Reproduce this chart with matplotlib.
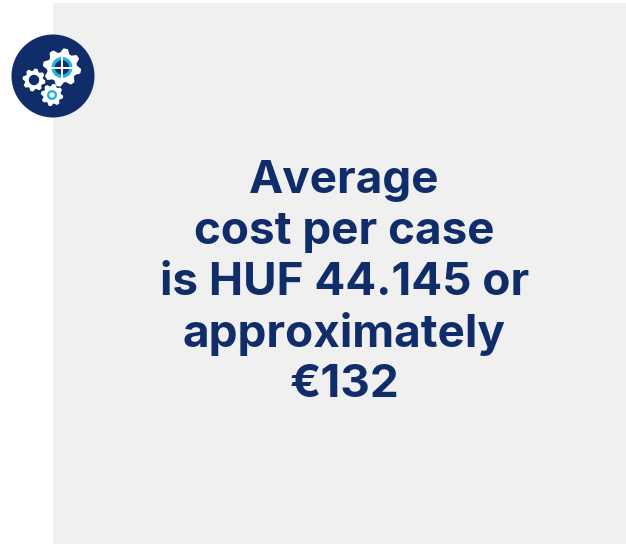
import numpy as np
import matplotlib
matplotlib.use("Agg")
import matplotlib.pyplot as plt
from matplotlib.patches import Circle, Rectangle, Polygon

W, H = 626, 544
NAVY = "#102d69"
PANEL = "#f0f0f0"
CYAN = "#1fb5e0"

# text lines of the card
LINES = ["Average", "cost per case", "is HUF 44.145 or", "approximately", "€132"]
BASELINES = [193, 244, 295, 346.5, 397]
# gears: centre x, centre y, outer radius
GEAR_X = [62, 34, 52]
GEAR_Y = [67.5, 80, 95]
GEAR_R = [18.5, 10.8, 10.5]
GEAR_TEETH = [8, 8, 8]


def gear(ax, cx, cy, r, teeth):
    # outline alternating between tooth tip and root
    n = teeth * 4
    ang = np.linspace(0, 2 * np.pi, n, endpoint=False) + np.pi / teeth / 4
    rad = np.where(np.arange(n) % 4 < 2, r, r * 0.78)
    pts = np.column_stack([cx + rad * np.cos(ang), cy + rad * np.sin(ang)])
    ax.add_patch(Polygon(pts, closed=True, fc="white", ec="white", lw=1.0, joinstyle="round", zorder=4))


fig = plt.figure(figsize=(W / 100, H / 100), dpi=100)
ax = fig.add_axes([0, 0, 1, 1])
ax.set_xlim(0, W)
ax.set_ylim(H, 0)
ax.axis("off")

ax.add_patch(Rectangle((53, 3), 573, 541, fc=PANEL, ec="none"))
ax.add_patch(Circle((53, 76), 41.5, fc=NAVY, ec="none", zorder=3))

for gx, gy, gr, gt in zip(GEAR_X, GEAR_Y, GEAR_R, GEAR_TEETH):
    gear(ax, gx, gy, gr, gt)

# big gear: cyan ring with crosshair
ax.add_patch(Circle((62, 67.5), 10.5, fc=CYAN, ec="none", zorder=5))
ax.add_patch(Circle((62, 67.5), 7.2, fc=NAVY, ec="none", zorder=6))
ax.plot([62, 62], [57, 78], color="white", lw=1.4, zorder=7)
ax.plot([51.5, 72.5], [67.5, 67.5], color="white", lw=1.4, zorder=7)
# left gear: plain hole
ax.add_patch(Circle((34, 80), 5.2, fc=NAVY, ec="none", zorder=5))
# lower gear: cyan ring
ax.add_patch(Circle((52, 95), 5, fc=CYAN, ec="none", zorder=5))
ax.add_patch(Circle((52, 95), 2.6, fc="white", ec="none", zorder=6))

for txt, y in zip(LINES, BASELINES):
    ax.text(344.5, y, txt, ha="center", va="baseline", fontsize=33, fontweight="bold",
            family="Inter", color=NAVY)

fig.savefig("out.png", dpi=100)
